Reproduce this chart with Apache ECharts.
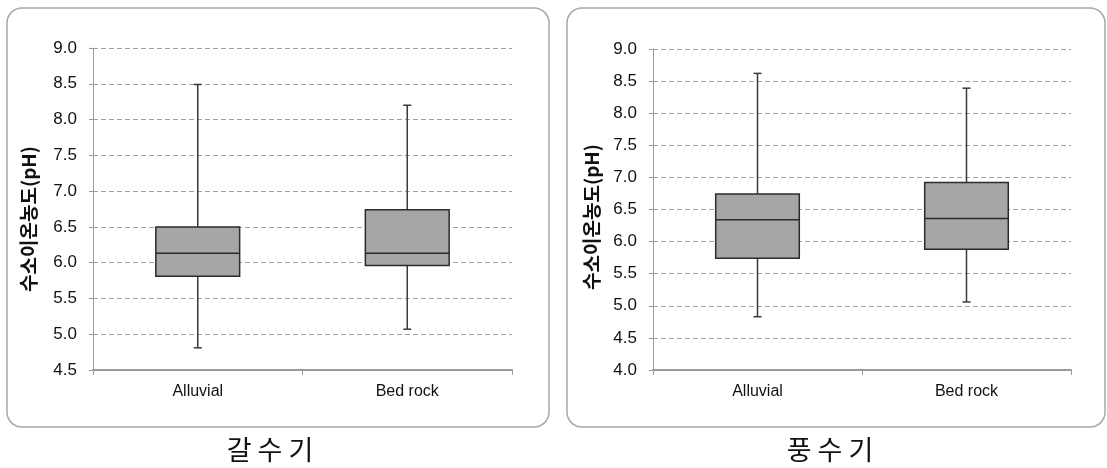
<!DOCTYPE html>
<html>
<head>
<meta charset="utf-8">
<script src="https://cdn.jsdelivr.net/npm/echarts@6/dist/echarts.min.js"></script>
<style>
  html, body { margin: 0; padding: 0; background: #fff; }
  #chart { width: 1107px; height: 468px; }
</style>
</head>
<body>
<div id="chart"></div>
<script>
// Sample groups
const categories = ['Alluvial', 'Bed rock'];

// Dry season (갈수기) pH summary: whisker min, Q1, median, Q3, whisker max
const dryMin = [4.81, 5.07];
const dryQ1 = [5.81, 5.96];
const dryMedian = [6.13, 6.13];
const dryQ3 = [6.50, 6.74];
const dryMax = [8.49, 8.20];

// Wet season (풍수기) pH summary
const wetMin = [4.83, 5.06];
const wetQ1 = [5.74, 5.88];
const wetMedian = [6.34, 6.36];
const wetQ3 = [6.74, 6.92];
const wetMax = [8.62, 8.39];

// Axis ranges and titles
const dryAxis = { min: 4.5, max: 9.0, step: 0.5 };
const wetAxis = { min: 4.0, max: 9.0, step: 0.5 };
const panelTitles = ['갈 수 기', '풍 수 기'];
const yAxisName = '수소이온농도(pH)';

function rows(mins, q1s, meds, q3s, maxs) {
  return categories.map((c, i) => [i, mins[i], q1s[i], meds[i], q3s[i], maxs[i]]);
}

const LABEL_FONT = "'Liberation Sans', Arial, sans-serif";
const KR_FONT = "'Noto Sans CJK KR', 'Noto Sans', sans-serif";

// Box with short whisker caps, drawn through the axis scales
function renderBox(params, api) {
  const i = api.value(0);
  const lo = api.coord([i, api.value(1)]);
  const q1 = api.coord([i, api.value(2)]);
  const md = api.coord([i, api.value(3)]);
  const q3 = api.coord([i, api.value(4)]);
  const hi = api.coord([i, api.value(5)]);
  const bw = api.size([1, 0])[0] * 0.4;
  const cx = lo[0];
  const cap = 4;
  const whisker = { stroke: '#3a3a3a', lineWidth: 1.5 };
  const edge = { stroke: '#2b2b2b', lineWidth: 1.5 };
  return {
    type: 'group',
    children: [
      { type: 'line', shape: { x1: cx, y1: hi[1], x2: cx, y2: q3[1] }, style: whisker },
      { type: 'line', shape: { x1: cx - cap, y1: hi[1], x2: cx + cap, y2: hi[1] }, style: whisker },
      { type: 'line', shape: { x1: cx, y1: q1[1], x2: cx, y2: lo[1] }, style: whisker },
      { type: 'line', shape: { x1: cx - cap, y1: lo[1], x2: cx + cap, y2: lo[1] }, style: whisker },
      { type: 'rect', shape: { x: cx - bw / 2, y: q3[1], width: bw, height: q1[1] - q3[1] },
        style: { fill: '#a6a6a6', stroke: '#2b2b2b', lineWidth: 1.5 } },
      { type: 'line', shape: { x1: cx - bw / 2, y1: md[1], x2: cx + bw / 2, y2: md[1] }, style: edge }
    ]
  };
}

function xAxisFor(gridIndex) {
  return {
    type: 'category',
    gridIndex: gridIndex,
    data: categories,
    boundaryGap: true,
    axisLine: { show: true, lineStyle: { color: '#9a9a9a', width: 2 } },
    axisTick: { show: true, length: 5, lineStyle: { color: '#9a9a9a', width: 1 } },
    axisLabel: { margin: 14, color: '#111', fontFamily: LABEL_FONT, fontSize: 16 },
    splitLine: { show: false }
  };
}

function yAxisFor(gridIndex, range) {
  return {
    type: 'value',
    gridIndex: gridIndex,
    min: range.min,
    max: range.max,
    interval: range.step,
    axisLine: { show: true, lineStyle: { color: '#9a9a9a', width: 1 } },
    axisTick: { show: true, length: 4, lineStyle: { color: '#9a9a9a' } },
    axisLabel: {
      margin: 16, color: '#111', fontFamily: LABEL_FONT, fontSize: 17,
      formatter: v => v.toFixed(1)
    },
    splitLine: { show: true, lineStyle: { color: '#a0a0a0', type: [5, 3], width: 1 } }
  };
}

const chart = echarts.init(document.getElementById('chart'), null, { renderer: 'canvas' });

chart.setOption({
  backgroundColor: '#ffffff',
  animation: false,
  grid: [
    { left: 93, right: 595, top: 48, bottom: 98 },
    { left: 653, right: 36, top: 49, bottom: 98 }
  ],
  xAxis: [xAxisFor(0), xAxisFor(1)],
  yAxis: [yAxisFor(0, dryAxis), yAxisFor(1, wetAxis)],
  series: [
    {
      type: 'custom', xAxisIndex: 0, yAxisIndex: 0,
      renderItem: renderBox,
      encode: { x: 0, y: [1, 2, 3, 4, 5] },
      data: rows(dryMin, dryQ1, dryMedian, dryQ3, dryMax)
    },
    {
      type: 'custom', xAxisIndex: 1, yAxisIndex: 1,
      renderItem: renderBox,
      encode: { x: 0, y: [1, 2, 3, 4, 5] },
      data: rows(wetMin, wetQ1, wetMedian, wetQ3, wetMax)
    }
  ],
  graphic: [
    // rounded panel frames
    { type: 'rect', z: -1, shape: { x: 7, y: 8, width: 542, height: 419, r: 15 },
      style: { fill: 'none', stroke: '#a8a8a8', lineWidth: 1.5 } },
    { type: 'rect', z: -1, shape: { x: 567, y: 8, width: 538, height: 419, r: 15 },
      style: { fill: 'none', stroke: '#a8a8a8', lineWidth: 1.5 } },
    // vertical axis names
    { type: 'text', x: 29, y: 219, rotation: Math.PI / 2,
      style: { text: yAxisName, fill: '#111', font: "bold 19px " + KR_FONT,
               align: 'center', verticalAlign: 'middle' } },
    { type: 'text', x: 592, y: 217, rotation: Math.PI / 2,
      style: { text: yAxisName, fill: '#111', font: "bold 19px " + KR_FONT,
               align: 'center', verticalAlign: 'middle' } },
    // panel captions
    { type: 'text', x: 270, y: 450,
      style: { text: panelTitles[0], fill: '#111', font: "27px " + KR_FONT,
               align: 'center', verticalAlign: 'middle' } },
    { type: 'text', x: 830, y: 450,
      style: { text: panelTitles[1], fill: '#111', font: "27px " + KR_FONT,
               align: 'center', verticalAlign: 'middle' } }
  ]
});
</script>
</body>
</html>
